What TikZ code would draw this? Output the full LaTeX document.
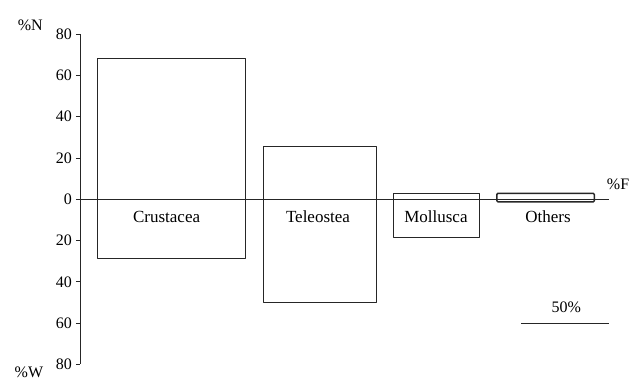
\documentclass[tikz,border=0pt]{standalone}
\usepackage{fontspec}
\setmainfont{Liberation Serif}
\begin{document}
\begin{tikzpicture}[x=1.76pt,y=2.0625pt,line width=1pt,line join=round,color=black!85,
	bar/.style={draw,line width=1pt},
	every node/.style={font=\fontsize{16}{18}\selectfont,inner sep=0pt,text=black}]
	\useasboundingbox (-45.45,-88.1) rectangle (313.6,96.6);
	\coordinate (top) at (0,80);
	\coordinate (bot) at (0,-80);
	\coordinate (fend) at (300.6,0);
	\draw (top) -- (bot);
	\draw (0,0) -- (fend);
	\foreach \y/\t in {80/80,60/60,40/40,20/20,0/0,-20/20,-40/40,-60/60,-80/80}
		\draw (-2.3,\y) -- (0,\y) node[anchor=east,xshift=-7.5pt] {\t};
	\draw[bar] (10,-28.6) rectangle (94,68.4);
	\draw[bar] (104,-50.1) rectangle (168.4,25.8);
	\draw[bar] (178,-18.4) rectangle (226.7,2.9);
	\draw[bar,line width=1.5pt,rounded corners=1.2pt] (236.8,-1.3) rectangle (292.2,2.9);
	\node[anchor=base,font=\fontsize{17}{19}\selectfont] (crus) at (49.2,-11.3) {Crustacea};
	\node[anchor=base,font=\fontsize{17}{19}\selectfont] (tele) at (135.2,-11.3) {Teleostea};
	\node[anchor=base,font=\fontsize{17}{19}\selectfont] (moll) at (202.2,-11.3) {Mollusca};
	\node[anchor=base,font=\fontsize{17}{19}\selectfont] (oth) at (265.9,-11.3) {Others};
	\coordinate (sa) at (250.6,-60);
	\coordinate (sb) at (300.7,-60);
	\draw (sa) -- (sb);
	\node[anchor=base] (scale) at (276.3,-55) {50\%};
	\node[anchor=base] (pn) at (-28.2,81.7) {\%N};
	\node[anchor=base] (pw) at (-29,-86.4) {\%W};
	\node[anchor=base] (pf) at (305.7,4.85) {\%F};
\end{tikzpicture}
\end{document}
